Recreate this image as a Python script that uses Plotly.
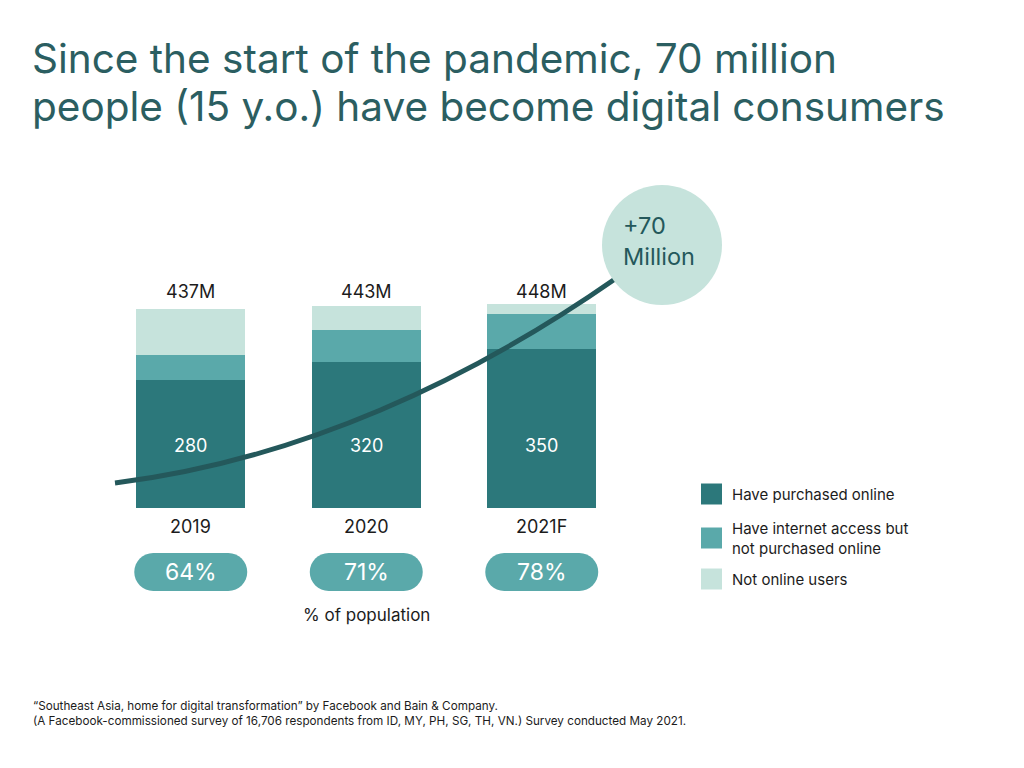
import plotly.graph_objects as go

# ---------------- data ----------------
years = ["2019", "2020", "2021F"]
purchased = [280, 320, 350]
internet_no_purchase = [57, 70, 77]
not_online = [100, 53, 21]
totals = [437, 443, 448]
pct_population = ["64%", "71%", "78%"]
series_names = ["Have purchased online", "Have internet access but<br>not purchased online", "Not online users"]

DARK = "#2c787b"
MID = "#5aa9aa"
LIGHT = "#c6e3dc"
CURVE = "#24585b"
TITLE = "#2b5e61"
FONT = "Inter"

W, H = 1024, 768
def px(x):
    return x / W
def py(y):
    return 1 - y / H

fig = go.Figure()
for vals, col in zip([purchased, internet_no_purchase, not_online], [DARK, MID, LIGHT]):
    fig.add_trace(go.Bar(x=years, y=vals, marker=dict(color=col, line=dict(width=0)),
                         width=0.62, hoverinfo="skip", showlegend=False))

annotations = []
shapes = []

def ann(**kw):
    kw.setdefault("showarrow", False)
    kw.setdefault("xanchor", "center")
    kw.setdefault("yanchor", "middle")
    annotations.append(kw)

# title (two lines)
for line, yc in zip(["Since the start of the pandemic, 70 million",
                     "people (15 y.o.) have become digital consumers"], [59, 106]):
    ann(text=line, x=px(30), y=py(yc), xref="paper", yref="paper",
        xanchor="left", align="left",
        font=dict(family=FONT, size=40.5, color=TITLE))

for i, yr in enumerate(years):
    ann(text=f"{totals[i]}M", x=i, y=py(292), xref="x", yref="paper",
        font=dict(family=FONT, size=18, color="#1c1c1c"))
    ann(text=str(purchased[i]), x=i, y=py(445), xref="x", yref="paper",
        font=dict(family=FONT, size=18, color="white"))
    ann(text=yr, x=i, y=py(526), xref="x", yref="paper",
        font=dict(family=FONT, size=18, color="#1c1c1c"))
    # pill
    cx = i
    hw = 113 / 2 / 175.5
    r = 19 / 175.5
    top, bot = py(553), py(591)
    mid = (top + bot) / 2
    k = 0.5523
    rh = (top - bot) / 2
    x0, x1 = cx - hw + r, cx + hw - r
    path = (f"M {x0},{top} L {x1},{top} "
            f"C {x1 + k*r},{top} {x1 + r},{mid + k*rh} {x1 + r},{mid} "
            f"C {x1 + r},{mid - k*rh} {x1 + k*r},{bot} {x1},{bot} "
            f"L {x0},{bot} "
            f"C {x0 - k*r},{bot} {x0 - r},{mid - k*rh} {x0 - r},{mid} "
            f"C {x0 - r},{mid + k*rh} {x0 - k*r},{top} {x0},{top} Z")
    shapes.append(dict(type="path", path=path, xref="x", yref="paper",
                       fillcolor=MID, line=dict(width=0), layer="below"))
    ann(text=pct_population[i], x=i, y=mid, xref="x", yref="paper",
        font=dict(family=FONT, size=23, color="white"))

ann(text="% of population", x=1, y=py(615), xref="x", yref="paper",
    font=dict(family=FONT, size=17, color="#1c1c1c"))

# growth curve (decorative)
curve = (f"M {px(115)},{py(483)} C {px(300)},{py(460)} {px(470)},{py(380)} {px(615)},{py(279)}")
shapes.append(dict(type="path", path=curve, xref="paper", yref="paper",
                   line=dict(color=CURVE, width=5), layer="above"))
# circle
shapes.append(dict(type="circle", xref="paper", yref="paper",
                   x0=px(602), x1=px(722), y0=py(305), y1=py(185),
                   fillcolor=LIGHT, line=dict(width=0), layer="above"))
ann(text="+70<br>Million", x=px(621), y=py(241), xref="paper", yref="paper",
    xanchor="left", align="left",
    font=dict(family=FONT, size=23.5, color=CURVE))

# legend
leg_y = [494, 538, 579]
for name, col, yy in zip(series_names, [DARK, MID, LIGHT], leg_y):
    shapes.append(dict(type="rect", xref="paper", yref="paper",
                       x0=px(701), x1=px(722), y0=py(yy + 10.5), y1=py(yy - 10.5),
                       fillcolor=col, line=dict(width=0)))
    ann(text=name, x=px(730), y=py(yy), xref="paper", yref="paper",
        xanchor="left", align="left",
        font=dict(family=FONT, size=15, color="#1c1c1c"))

# footer
ann(text="“Southeast Asia, home for digital transformation” by Facebook and Bain &amp; Company.<br>"
         "(A Facebook-commissioned survey of 16,706 respondents from ID, MY, PH, SG, TH, VN.) Survey conducted May 2021.",
    x=px(31), y=py(713), xref="paper", yref="paper", xanchor="left", align="left",
    font=dict(family=FONT, size=11.7, color="#1c1c1c"))

fig.update_layout(
    width=W, height=H, autosize=False,
    margin=dict(l=0, r=0, t=0, b=0),
    paper_bgcolor="white", plot_bgcolor="white",
    barmode="stack", bargap=0,
    xaxis=dict(type="category", domain=[px(103), px(629.5)], range=[-0.5, 2.5], visible=False, fixedrange=True),
    yaxis=dict(domain=[py(508), py(280.3)], range=[0, 500], visible=False, fixedrange=True),
    annotations=annotations, shapes=shapes,
    showlegend=False,
)
fig.write_html("out.html", config={"displayModeBar": False, "staticPlot": True},
               post_script="document.body.style.margin='0';document.body.style.overflow='hidden';")
